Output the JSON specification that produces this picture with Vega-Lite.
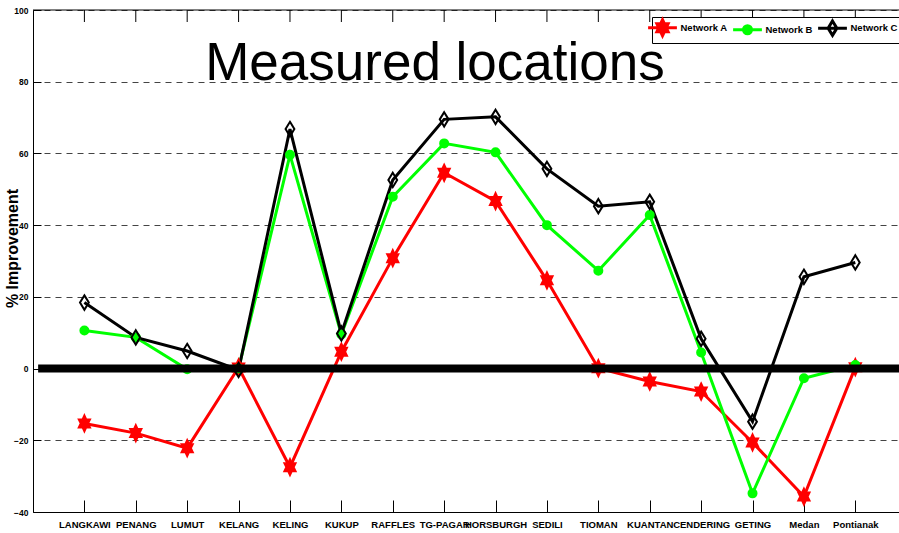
{
  "$schema": "https://vega.github.io/schema/vega-lite/v6.json",
  "width": 866,
  "height": 502,
  "autosize": {"type": "none"},
  "padding": {"left": 33, "top": 10, "right": 0, "bottom": 21},
  "background": "white",
  "config": {"view": {"stroke": null}, "font": "Liberation Sans"},
  "datasets": {
    "main": [
      {"i": 1, "site": "LANGKAWI", "series": "Network A", "value": -15.3},
      {"i": 2, "site": "PENANG", "series": "Network A", "value": -18.0},
      {"i": 3, "site": "LUMUT", "series": "Network A", "value": -22.2},
      {"i": 4, "site": "KELANG", "series": "Network A", "value": 0.3},
      {"i": 5, "site": "KELING", "series": "Network A", "value": -27.5},
      {"i": 6, "site": "KUKUP", "series": "Network A", "value": 4.7},
      {"i": 7, "site": "RAFFLES", "series": "Network A", "value": 30.8},
      {"i": 8, "site": "TG-PAGAR", "series": "Network A", "value": 54.6},
      {"i": 9, "site": "HORSBURGH", "series": "Network A", "value": 46.7},
      {"i": 10, "site": "SEDILI", "series": "Network A", "value": 24.6},
      {"i": 11, "site": "TIOMAN", "series": "Network A", "value": 0.1},
      {"i": 12, "site": "KUANTAN", "series": "Network A", "value": -3.6},
      {"i": 13, "site": "CENDERING", "series": "Network A", "value": -6.4},
      {"i": 14, "site": "GETING", "series": "Network A", "value": -20.6},
      {"i": 15, "site": "Medan", "series": "Network A", "value": -35.7},
      {"i": 16, "site": "Pontianak", "series": "Network A", "value": 0.4},
      {"i": 1, "site": "LANGKAWI", "series": "Network B", "value": 10.6},
      {"i": 2, "site": "PENANG", "series": "Network B", "value": 8.7},
      {"i": 3, "site": "LUMUT", "series": "Network B", "value": -0.2},
      {"i": 4, "site": "KELANG", "series": "Network B", "value": 0},
      {"i": 5, "site": "KELING", "series": "Network B", "value": 59.6},
      {"i": 6, "site": "KUKUP", "series": "Network B", "value": 9.5},
      {"i": 7, "site": "RAFFLES", "series": "Network B", "value": 47.9},
      {"i": 8, "site": "TG-PAGAR", "series": "Network B", "value": 62.8},
      {"i": 9, "site": "HORSBURGH", "series": "Network B", "value": 60.3},
      {"i": 10, "site": "SEDILI", "series": "Network B", "value": 40.0},
      {"i": 11, "site": "TIOMAN", "series": "Network B", "value": 27.3},
      {"i": 12, "site": "KUANTAN", "series": "Network B", "value": 42.8},
      {"i": 13, "site": "CENDERING", "series": "Network B", "value": 4.5},
      {"i": 14, "site": "GETING", "series": "Network B", "value": -34.8},
      {"i": 15, "site": "Medan", "series": "Network B", "value": -2.7},
      {"i": 16, "site": "Pontianak", "series": "Network B", "value": 1.0},
      {"i": 1, "site": "LANGKAWI", "series": "Network C", "value": 18.4},
      {"i": 2, "site": "PENANG", "series": "Network C", "value": 8.7},
      {"i": 3, "site": "LUMUT", "series": "Network C", "value": 4.9},
      {"i": 4, "site": "KELANG", "series": "Network C", "value": -0.4},
      {"i": 5, "site": "KELING", "series": "Network C", "value": 66.8},
      {"i": 6, "site": "KUKUP", "series": "Network C", "value": 9.8},
      {"i": 7, "site": "RAFFLES", "series": "Network C", "value": 52.6},
      {"i": 8, "site": "TG-PAGAR", "series": "Network C", "value": 69.5},
      {"i": 9, "site": "HORSBURGH", "series": "Network C", "value": 70.2},
      {"i": 10, "site": "SEDILI", "series": "Network C", "value": 55.7},
      {"i": 11, "site": "TIOMAN", "series": "Network C", "value": 45.3},
      {"i": 12, "site": "KUANTAN", "series": "Network C", "value": 46.5},
      {"i": 13, "site": "CENDERING", "series": "Network C", "value": 8.3},
      {"i": 14, "site": "GETING", "series": "Network C", "value": -14.8},
      {"i": 15, "site": "Medan", "series": "Network C", "value": 25.6},
      {"i": 16, "site": "Pontianak", "series": "Network C", "value": 29.6}
    ]
  },
  "data": {"name": "main"},
  "resolve": {"scale": {"shape": "independent", "stroke": "independent", "fill": "independent"}},
  "layer": [
    {
      "mark": {"type": "line", "strokeWidth": 3},
      "encoding": {
        "x": {
          "field": "i", "type": "quantitative",
          "scale": {"domain": [0, 16.85], "nice": false, "zero": false},
          "axis": {
            "orient": "bottom",
            "values": [1, 2, 3, 4, 5, 6, 7, 8, 9, 10, 11, 12, 13, 14, 15, 16],
            "labelExpr": "['','LANGKAWI','PENANG','LUMUT','KELANG','KELING','KUKUP','RAFFLES','TG-PAGAR','HORSBURGH','SEDILI','TIOMAN','KUANTAN','CENDERING','GETING','Medan','Pontianak'][datum.value]",
            "grid": false,
            "tickSize": -12,
            "tickColor": "black",
            "domainColor": "black",
            "labelFont": "Liberation Sans",
            "labelFontSize": 9.5,
            "labelFontWeight": "bold",
            "labelColor": "black",
            "labelPadding": 19,
            "labelBaseline": "top",
            "labelOverlap": false,
            "labelFlush": false,
            "labelBound": false,
            "title": ""
          }
        },
        "y": {
          "field": "value", "type": "quantitative",
          "scale": {"domain": [-40, 100], "nice": false, "zero": false},
          "axis": {
            "orient": "left",
            "values": [-40, -20, 0, 20, 40, 60, 80, 100],
            "grid": true,
            "gridDash": [6, 5],
            "gridColor": "#444444",
            "gridOpacity": 1,
            "tickSize": -8,
            "tickColor": "black",
            "domainColor": "black",
            "labelFont": "Liberation Sans",
            "labelFontSize": 8.5,
            "labelFontWeight": "bold",
            "labelColor": "black",
            "labelPadding": 13,
            "labelFlush": false,
            "labelOverlap": false,
            "title": "% Improvement",
            "titleFont": "Liberation Sans",
            "titleFontSize": 16,
            "titleFontWeight": "bold",
            "titleColor": "black",
            "titleX": -16,
            "titleY": 238,
            "titleAngle": 270,
            "titleAlign": "center",
            "titleBaseline": "alphabetic"
          }
        },
        "color": {
          "field": "series", "type": "nominal",
          "scale": {"domain": ["Network A", "Network B", "Network C"], "range": ["#ff0000", "#00ff00", "#000000"]},
          "legend": null
        }
      }
    },
    {
      "mark": {"type": "point", "size": 256, "strokeWidth": 2, "opacity": 1},
      "encoding": {
        "x": {"field": "i", "type": "quantitative"},
        "y": {"field": "value", "type": "quantitative"},
        "shape": {
          "field": "series", "type": "nominal",
          "scale": {"domain": ["Network A", "Network B", "Network C"], "range": [
            "M0,-1L0.23,-0.5L0.7,-0.5L0.46,0L0.7,0.5L0.23,0.5L0,1L-0.23,0.5L-0.7,0.5L-0.46,0L-0.7,-0.5L-0.23,-0.5Z",
            "M0.5,0A0.5,0.5 0 1,1 -0.5,0A0.5,0.5 0 1,1 0.5,0Z",
            "M0,-0.9L0.55,0L0,0.9L-0.55,0Z"
          ]},
          "legend": null
        },
        "stroke": {
          "field": "series", "type": "nominal",
          "scale": {"domain": ["Network A", "Network B", "Network C"], "range": ["#ff0000", "#00ff00", "#000000"]},
          "legend": null
        },
        "fill": {
          "field": "series", "type": "nominal",
          "scale": {"domain": ["Network A", "Network B", "Network C"], "range": ["#ff0000", "#00ff00", "transparent"]},
          "legend": null
        }
      }
    },
    {
      "transform": [{"filter": "datum.value > 1000"}],
      "mark": {"type": "point", "size": 256, "strokeWidth": 3, "opacity": 1},
      "encoding": {
        "x": {"field": "i", "type": "quantitative"},
        "y": {"field": "value", "type": "quantitative"},
        "shape": {
          "field": "series", "type": "nominal",
          "scale": {"domain": ["Network A", "Network B", "Network C"], "range": [
            "M-1.8,0H1.8M0,-1L0.23,-0.5L0.7,-0.5L0.46,0L0.7,0.5L0.23,0.5L0,1L-0.23,0.5L-0.7,0.5L-0.46,0L-0.7,-0.5L-0.23,-0.5Z",
            "M-1.8,0H1.8M0.5,0A0.5,0.5 0 1,1 -0.5,0A0.5,0.5 0 1,1 0.5,0Z",
            "M-1.8,0H1.8M0,-0.9L0.55,0L0,0.9L-0.55,0Z"
          ]},
          "legend": {"title": null, "orient": "none", "legendX": 619, "legendY": 7, "direction": "horizontal", "columns": 3, "columnPadding": -1, "labelOffset": 8.5, "labelFont": "Liberation Sans", "labelFontSize": 9.5, "labelFontWeight": "bold", "labelColor": "black", "strokeColor": "black", "fillColor": "white", "padding": 1, "symbolStrokeWidth": 3, "symbolSize": 256, "labelLimit": 0}
        },
        "stroke": {
          "field": "series", "type": "nominal",
          "scale": {"domain": ["Network A", "Network B", "Network C"], "range": ["#ff0000", "#00ff00", "#000000"]},
          "legend": {"title": null, "orient": "none", "legendX": 619, "legendY": 7, "direction": "horizontal", "columns": 3, "columnPadding": -1, "labelOffset": 8.5, "labelFont": "Liberation Sans", "labelFontSize": 9.5, "labelFontWeight": "bold", "labelColor": "black", "strokeColor": "black", "fillColor": "white", "padding": 1, "symbolStrokeWidth": 3, "symbolSize": 256, "labelLimit": 0}
        },
        "fill": {
          "field": "series", "type": "nominal",
          "scale": {"domain": ["Network A", "Network B", "Network C"], "range": ["#ff0000", "#00ff00", "transparent"]},
          "legend": {"title": null, "orient": "none", "legendX": 619, "legendY": 7, "direction": "horizontal", "columns": 3, "columnPadding": -1, "labelOffset": 8.5, "labelFont": "Liberation Sans", "labelFontSize": 9.5, "labelFontWeight": "bold", "labelColor": "black", "strokeColor": "black", "fillColor": "white", "padding": 1, "symbolStrokeWidth": 3, "symbolSize": 256, "labelLimit": 0}
        }
      }
    },
    {
      "data": {"values": [{"label": "Measured locations"}]},
      "mark": {"type": "text", "font": "Liberation Sans", "fontSize": 53, "align": "left", "baseline": "alphabetic", "color": "black"},
      "encoding": {
        "x": {"datum": 3.35, "type": "quantitative"},
        "y": {"datum": 80.5, "type": "quantitative"},
        "text": {"field": "label"}
      }
    },
    {
      "data": {"values": [{"label": "top frame"}]},
      "mark": {"type": "rule", "strokeWidth": 1, "color": "black"},
      "encoding": {
        "x": {"datum": 0, "type": "quantitative"},
        "x2": {"datum": 16.85},
        "y": {"datum": 100, "type": "quantitative"}
      }
    },
    {
      "transform": [{"filter": "datum.series == 'Network A'"}],
      "mark": {"type": "rule", "strokeWidth": 1, "color": "black"},
      "encoding": {
        "x": {"field": "i", "type": "quantitative"},
        "y": {"datum": 100, "type": "quantitative"},
        "y2": {"datum": 96.65}
      }
    },
    {
      "data": {"values": [{"label": "zero"}]},
      "mark": {"type": "rule", "strokeWidth": 8, "color": "black", "strokeCap": "butt"},
      "encoding": {
        "x": {"datum": 0.1, "type": "quantitative"},
        "x2": {"datum": 16.85},
        "y": {"datum": 0, "type": "quantitative"}
      }
    }
  ]
}
